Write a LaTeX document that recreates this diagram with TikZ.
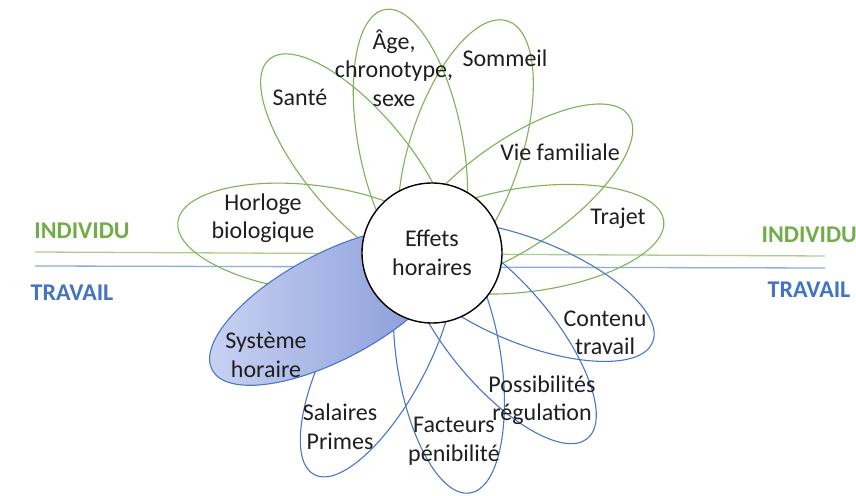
\documentclass[tikz,border=0pt]{standalone}
\usepackage{fontspec}
\setmainfont{Carlito}
\definecolor{petalgreen}{HTML}{7DB356}
\definecolor{petalblue}{HTML}{4A76C6}
\definecolor{linegreen}{HTML}{A9CF8E}
\definecolor{lineblue}{HTML}{8FAADC}
\definecolor{txtgreen}{HTML}{70AD47}
\definecolor{txtblue}{HTML}{4472C4}
\definecolor{txt}{HTML}{1F1F1F}
\definecolor{fillpale}{HTML}{CBD4F3}
\definecolor{filldark}{HTML}{7F94D7}
\begin{document}
\begin{tikzpicture}[x=1pt,y=1pt,
label/.style={
% petal texts:
font=\fontsize{24}{28.5}\selectfont,
align=center,
inner sep=0pt,
text=txt
},
side/.style={
font=\bfseries\fontsize{24}{28}\selectfont,
inner sep=0pt
},
gpetal/.style={draw=petalgreen, line width=1.1pt},
bpetal/.style={draw=petalblue, line width=1.1pt},
hline/.style={draw=#1, line width=1.3pt}
]
\useasboundingbox (0,0) rectangle (856,495);
% the two border lines
\coordinate (gl) at (35,243); \coordinate (gr) at (825,239);
\coordinate (bl) at (35,229); \coordinate (br) at (825,227);
\draw[hline=linegreen] (gl) -- (gr);
\draw[hline=lineblue] (bl) -- (br);
\node (indl) [side,text=txtgreen] at (82,264) {INDIVIDU};
\node (indr) [side,text=txtgreen,anchor=east] at (857,260) {INDIVIDU};
\node (trvl) [side,text=txtblue] at (72,202) {TRAVAIL};
\node (trvr) [side,text=txtblue] at (809,205) {TRAVAIL};
% green petals
\draw[gpetal, rotate around={173:(432,242)}] (553,242) ellipse (135 and 53);
\draw[gpetal, rotate around={130:(432,242)}] (550,242) ellipse (135 and 52);
\draw[gpetal, rotate around={101:(432,242)}] (545,242) ellipse (135 and 52);
\draw[gpetal, rotate around={72:(432,242)}] (541,242) ellipse (135 and 56);
\draw[gpetal, rotate around={35:(432,242)}] (537,242) ellipse (135 and 53);
\draw[gpetal, rotate around={8:(432,242)}] (531,242) ellipse (135 and 52);
% blue petals
\draw[bpetal, rotate around={-22:(432,242)}] (535,242) ellipse (135 and 52);
\draw[bpetal, rotate around={-50:(432,242)}] (539,242) ellipse (135 and 52);
\draw[bpetal, rotate around={-81:(432,242)}] (540,242) ellipse (135 and 52);
\draw[bpetal, rotate around={-118:(432,242)}] (548,242) ellipse (135 and 50);
\draw[bpetal, left color=fillpale, right color=filldark,
      rotate around={-152:(432,242)}] (546,242) ellipse (135 and 53);
% centre
\node (effets) [circle, draw=black, line width=1.4pt, fill=white,
      minimum size=140pt, inner sep=0pt, label] at (432,242) {Effets\\horaires};
% petal texts
\node (horloge) [label] at (263,277) {Horloge\\biologique};
\node (sante) [label] at (300,398) {Santé};
\node (age) [label] at (394,427) {Âge,\\chronotype,\\sexe};
\node (sommeil) [label] at (505,437) {Sommeil};
\node (famille) [label] at (560,343) {Vie familiale};
\node (trajet) [label] at (618,277) {Trajet};
\node (contenu) [label] at (605,162) {Contenu\\travail};
\node (regul) [label] at (542,95) {Possibilités\\régulation};
\node (penib) [label] at (454,54) {Facteurs\\pénibilité};
\node (salaires) [label] at (340,68) {Salaires\\Primes};
\node (systeme) [label] at (266,140) {Système\\horaire};
\end{tikzpicture}
\end{document}
